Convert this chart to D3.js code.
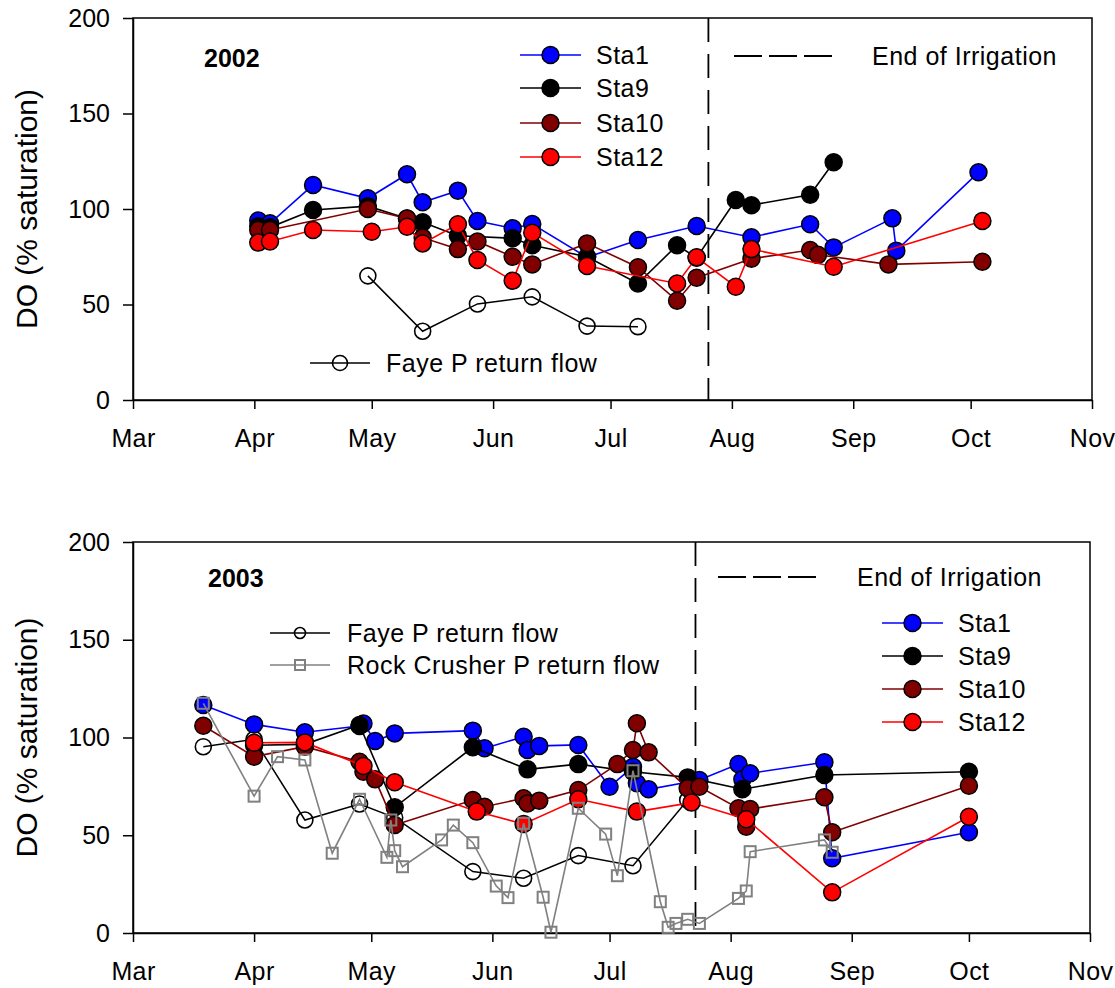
<!DOCTYPE html>
<html>
<head>
<meta charset="utf-8">
<script src="https://cdn.jsdelivr.net/npm/d3@7"></script>
<style>
  html, body { margin: 0; padding: 0; background: #fff; }
  svg { display: block; font-family: Arial, "Liberation Sans", sans-serif; }
</style>
</head>
<body>
<svg id="chart" width="1115" height="988"></svg>
<script>
// Month tick labels and DO axis ticks
const months = ["Mar", "Apr", "May", "Jun", "Jul", "Aug", "Sep", "Oct", "Nov"];
const yTicks = [0, 50, 100, 150, 200];

// ---- 2002 dissolved oxygen (% saturation) ----
const sta1_2002 = [["2002-04-02",94],["2002-04-05",92.5],["2002-04-16",112.6],["2002-04-30",105.6],["2002-05-10",118.2],["2002-05-14",103.5],["2002-05-23",109.6],["2002-05-28",93.7],["2002-06-06",89.9],["2002-06-11",92.1],["2002-06-25",74.7],["2002-07-08",83.8],["2002-07-23",91.1],["2002-08-06",85.2],["2002-08-21",92],["2002-08-27",79.9],["2002-09-11",95.1],["2002-09-12",78.2],["2002-10-03",119.2]];
const sta9_2002 = [["2002-04-02",91],["2002-04-05",90.4],["2002-04-16",99.5],["2002-04-30",101.5],["2002-05-10",95],["2002-05-14",93],["2002-05-23",86],["2002-06-06",84.7],["2002-06-11",81],["2002-06-25",75],["2002-07-08",61],["2002-07-18",81],["2002-07-23",74.5],["2002-08-02",104.7],["2002-08-06",102],["2002-08-21",107.5],["2002-08-27",124.5]];
const sta10_2002 = [["2002-04-02",89],["2002-04-05",89],["2002-04-30",100],["2002-05-10",95],["2002-05-14",85],["2002-05-23",79],["2002-05-28",83],["2002-06-06",75],["2002-06-11",71],["2002-06-25",82],["2002-07-08",69.5],["2002-07-18",52],["2002-07-23",64],["2002-08-06",74],["2002-08-21",78.5],["2002-08-23",76],["2002-09-10",71],["2002-10-04",72.4]];
const sta12_2002 = [["2002-04-02",82.4],["2002-04-05",83],["2002-04-16",89],["2002-05-01",88.1],["2002-05-10",90.7],["2002-05-14",82],["2002-05-23",92],["2002-05-28",73.3],["2002-06-06",62.5],["2002-06-11",87.6],["2002-06-25",70.2],["2002-07-18",61],["2002-07-23",74.7],["2002-08-02",59.3],["2002-08-06",79],["2002-08-27",69.8],["2002-10-04",93.7]];
const faye_2002 = [["2002-04-30",65],["2002-05-14",36],["2002-05-28",50.3],["2002-06-11",54],["2002-06-25",38.7],["2002-07-08",38.4]];
const endIrrigation_2002 = "2002-07-26";

// ---- 2003 dissolved oxygen (% saturation) ----
const sta1_2003 = [["2003-03-19",116.6],["2003-04-01",106.7],["2003-04-14",102.7],["2003-04-28",105.9],["2003-04-29",107.2],["2003-05-02",98.2],["2003-05-07",102.1],["2003-05-27",103.5],["2003-05-30",94.5],["2003-06-09",100.4],["2003-06-10",93.6],["2003-06-13",95.7],["2003-06-23",96.2],["2003-07-01",74.8],["2003-07-07",85],["2003-07-08",76.6],["2003-07-11",73.5],["2003-07-24",78.3],["2003-08-03",86.4],["2003-08-04",78.6],["2003-08-06",81.7],["2003-08-25",87.3],["2003-08-27",38.2],["2003-10-01",51.5]];
const sta9_2003 = [["2003-04-01",96],["2003-04-14",96.5],["2003-04-28",106.4],["2003-05-07",64.3],["2003-05-27",95],["2003-06-10",83.7],["2003-06-23",86.4],["2003-07-07",82.5],["2003-07-21",79.6],["2003-08-04",73.5],["2003-08-25",80.8],["2003-10-01",82.5]];
const sta10_2003 = [["2003-03-19",106],["2003-04-01",90.2],["2003-04-14",95.3],["2003-04-28",87.6],["2003-04-29",82.5],["2003-05-02",78.6],["2003-05-07",55.2],["2003-05-27",68],["2003-05-30",64.6],["2003-06-09",68.9],["2003-06-10",66.3],["2003-06-13",67.7],["2003-06-23",73.1],["2003-07-03",86.4],["2003-07-07",93.6],["2003-07-08",107.3],["2003-07-11",92.4],["2003-07-21",74],["2003-07-24",74.8],["2003-08-03",63.8],["2003-08-05",54.4],["2003-08-06",63.4],["2003-08-25",69.4],["2003-08-27",51.5],["2003-10-01",75.3]];
const sta12_2003 = [["2003-04-01",97.3],["2003-04-14",97.5],["2003-04-29",85.4],["2003-05-07",77.1],["2003-05-28",62.1],["2003-06-09",55.8],["2003-06-23",68.4],["2003-07-08",62.1],["2003-07-22",66.7],["2003-08-05",58.2],["2003-08-27",20.8],["2003-10-01",59.5]];
const faye_2003 = [["2003-03-19",95.3],["2003-04-01",99.1],["2003-04-14",57.8],["2003-04-28",66],["2003-05-07",59],["2003-05-27",31.4],["2003-06-09",28],["2003-06-23",39.6],["2003-07-07",34.4],["2003-07-21",68]];
const rock_2003 = [["2003-03-19",117.5],["2003-04-01",70],["2003-04-07",90.2],["2003-04-14",88.5],["2003-04-21",40.8],["2003-04-28",68.4],["2003-05-05",38.7],["2003-05-06",57.8],["2003-05-07",42.1],["2003-05-09",33.9],["2003-05-19",47.6],["2003-05-22",55.2],["2003-05-27",46.2],["2003-06-02",24],["2003-06-05",18.1],["2003-06-09",56.1],["2003-06-14",18.3],["2003-06-16",0.4],["2003-06-23",63.8],["2003-06-30",50.6],["2003-07-03",29.3],["2003-07-07",83],["2003-07-14",16],["2003-07-16",2.9],["2003-07-18",4.9],["2003-07-21",7],["2003-07-24",4.9],["2003-08-03",17.7],["2003-08-05",21.5],["2003-08-06",41.6],["2003-08-25",47.6],["2003-08-27",41.3]];
const endIrrigation_2003 = "2003-07-23";

const parseDate = d3.timeParse("%Y-%m-%d");
const svg = d3.select("#chart");

const stationStyle = {
  Sta1: { color: "#0000ff" },
  Sta9: { color: "#000000" },
  Sta10: { color: "#800000" },
  Sta12: { color: "#ff0000" }
};

function drawPanel(p) {
  const x = d3.scaleTime()
    .domain([new Date(p.year, 2, 1), new Date(p.year, 10, 1)])
    .range([p.left, p.right]);
  const y = d3.scaleLinear().domain([0, 200]).range([p.bottom, p.top]);
  const g = svg.append("g");

  // frame
  g.append("rect")
    .attr("x", p.left).attr("y", p.top)
    .attr("width", p.right - p.left).attr("height", p.bottom - p.top)
    .attr("fill", "none").attr("stroke", "#000").attr("stroke-width", 1.5);

  // y axis
  const ya = g.append("g").attr("transform", `translate(${p.left},0)`)
    .call(d3.axisLeft(y).tickValues(yTicks).tickSize(10).tickSizeOuter(0));
  ya.select(".domain").attr("stroke-width", 1.5);
  ya.selectAll(".tick line").attr("stroke-width", 1.5);
  ya.selectAll(".tick text").attr("x", -23).attr("font-size", 25)
    .attr("font-family", "Arial, 'Liberation Sans', sans-serif").attr("fill", "#000");

  // x axis
  const monthDates = months.map((m, i) => new Date(p.year, 2 + i, 1));
  const xa = g.append("g").attr("transform", `translate(0,${p.bottom})`)
    .call(d3.axisBottom(x).tickValues(monthDates)
      .tickFormat((d, i) => months[i]).tickSize(9).tickSizeOuter(0));
  xa.select(".domain").attr("stroke-width", 1.5);
  xa.selectAll(".tick line").attr("stroke-width", 1.5);
  xa.selectAll(".tick text").attr("y", 47).attr("dy", null).attr("font-size", 25)
    .attr("letter-spacing", 0.4)
    .attr("font-family", "Arial, 'Liberation Sans', sans-serif").attr("fill", "#000");

  // y axis title
  g.append("text")
    .attr("transform", `translate(37,${(p.top + p.bottom) / 2}) rotate(-90)`)
    .attr("text-anchor", "middle")
    .attr("font-size", 30)
    .text("DO (% saturation)");

  // year label
  g.append("text").attr("x", p.yearX).attr("y", p.yearY)
    .attr("font-size", 25).attr("font-weight", "bold").text(p.year);

  // end of irrigation
  const xe = x(parseDate(p.endIrrigation));
  g.append("line").attr("x1", xe).attr("x2", xe).attr("y1", p.top).attr("y2", p.bottom)
    .attr("stroke", "#000").attr("stroke-width", 1.8).attr("stroke-dasharray", "24,12");

  const line = d3.line().x(d => x(parseDate(d[0]))).y(d => y(d[1]));

  p.series.forEach(s => {
    const sg = g.append("g");
    sg.append("path").datum(s.data).attr("d", line)
      .attr("fill", "none").attr("stroke", s.color).attr("stroke-width", s.lw || 1.6);
    if (s.marker === "square") {
      sg.selectAll("rect").data(s.data).join("rect")
        .attr("x", d => x(parseDate(d[0])) - 5.5).attr("y", d => y(d[1]) - 5.5)
        .attr("width", 11).attr("height", 11)
        .attr("fill", "none").attr("stroke", s.color).attr("stroke-width", 2);
    } else if (s.marker === "open") {
      sg.selectAll("circle").data(s.data).join("circle")
        .attr("cx", d => x(parseDate(d[0]))).attr("cy", d => y(d[1])).attr("r", 8)
        .attr("fill", "none").attr("stroke", "#000").attr("stroke-width", 1.6);
    } else {
      sg.selectAll("circle").data(s.data).join("circle")
        .attr("cx", d => x(parseDate(d[0]))).attr("cy", d => y(d[1])).attr("r", 8.5)
        .attr("fill", s.color).attr("stroke", "#000").attr("stroke-width", 1.5);
    }
  });

  // legends
  p.legends.forEach(L => {
    const lg = g.append("g");
    if (L.type === "dash") {
      lg.append("line").attr("x1", L.x1).attr("x2", L.x2).attr("y1", L.y).attr("y2", L.y)
        .attr("stroke", "#000").attr("stroke-width", 1.8).attr("stroke-dasharray", "28,7");
    } else {
      lg.append("line").attr("x1", L.x1).attr("x2", L.x2).attr("y1", L.y).attr("y2", L.y)
        .attr("stroke", L.color).attr("stroke-width", 1.6);
      const mx = (L.x1 + L.x2) / 2;
      if (L.marker === "square") {
        lg.append("rect").attr("x", mx - 5).attr("y", L.y - 5).attr("width", 10).attr("height", 10)
          .attr("fill", "none").attr("stroke", L.color).attr("stroke-width", 2);
      } else if (L.marker === "open") {
        lg.append("circle").attr("cx", mx).attr("cy", L.y).attr("r", L.r || 8)
          .attr("fill", "none").attr("stroke", "#000").attr("stroke-width", 1.6);
      } else {
        lg.append("circle").attr("cx", mx).attr("cy", L.y).attr("r", 8.5)
          .attr("fill", L.color).attr("stroke", "#000").attr("stroke-width", 1.5);
      }
    }
    lg.append("text").attr("x", L.tx).attr("y", L.y).attr("dy", "0.36em")
      .attr("font-size", 25).attr("letter-spacing", 0.5).text(L.label);
  });
}

function stationSeries(a, b, c, d) {
  return [
    { data: a, color: stationStyle.Sta1.color },
    { data: b, color: stationStyle.Sta9.color },
    { data: c, color: stationStyle.Sta10.color },
    { data: d, color: stationStyle.Sta12.color }
  ];
}

function stationLegend(x1, x2, tx, ys) {
  return ["Sta1", "Sta9", "Sta10", "Sta12"].map((n, i) => ({
    x1, x2, tx, y: ys[i], color: stationStyle[n].color, label: n
  }));
}

drawPanel({
  year: 2002, left: 133, right: 1092, top: 18, bottom: 400,
  yearX: 204, yearY: 67,
  endIrrigation: endIrrigation_2002,
  series: [{ data: faye_2002, color: "#000", marker: "open", lw: 1.5 }]
    .concat(stationSeries(sta1_2002, sta9_2002, sta10_2002, sta12_2002)),
  legends: stationLegend(520, 581, 596, [55, 88, 123, 157]).concat([
    { type: "dash", x1: 734, x2: 832, y: 56, tx: 872, label: "End of Irrigation" },
    { x1: 310, x2: 370, y: 363, tx: 386, color: "#000", marker: "open", r: 7.5, label: "Faye P return flow" }
  ])
});

drawPanel({
  year: 2003, left: 133, right: 1090, top: 542, bottom: 933,
  yearX: 208, yearY: 587,
  endIrrigation: endIrrigation_2003,
  series: [{ data: faye_2003, color: "#000", marker: "open", lw: 1.5 }]
    .concat(stationSeries(sta1_2003, sta9_2003, sta10_2003, sta12_2003))
    .concat([{ data: rock_2003, color: "#808080", marker: "square", lw: 1.6 }]),
  legends: stationLegend(882, 943, 958, [623, 656, 689, 722]).concat([
    { type: "dash", x1: 718, x2: 816, y: 577, tx: 857, label: "End of Irrigation" },
    { x1: 270, x2: 330, y: 633, tx: 347, color: "#000", marker: "open", r: 5.5, label: "Faye P return flow" },
    { x1: 270, x2: 330, y: 665, tx: 347, color: "#808080", marker: "square", label: "Rock Crusher P return flow" }
  ])
});
</script>
</body>
</html>
